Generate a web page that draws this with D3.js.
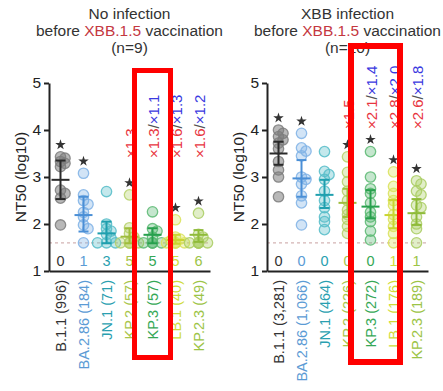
<!DOCTYPE html>
<html><head><meta charset="utf-8">
<script src="https://cdn.jsdelivr.net/npm/d3@7"></script>
<style>
body{margin:0;background:#fff}
svg{display:block}
text{font-family:"Liberation Sans",Arial,sans-serif}
</style>
</head><body>
<svg id="c" width="443" height="391"></svg>
<script>
// ---------- data ----------
const categories = ["B.1.1","BA.2.86","JN.1","KP.2","KP.3","LB.1","KP.2.3"];
const pointColors = ["#7d7d7d","#7fb2e5","#55bcc8","#b5d068","#5ab872","#d9e25a","#a9cd62"];
const lineColors  = ["#2a2a2a","#4a8fd6","#1f9fae","#9fbd3c","#27a04d","#c9d430","#8fbb3a"];
const labelColors = ["#333333","#5b9bd5","#2a9fb0","#a9c54c","#35a856","#cfdc3a","#9cc446"];

const yTicks = [1,2,3,4,5];
const detectionLimit = 1.6;

// Panel 1: No infection before XBB.1.5 vaccination (n=9)
const noInfTickLabels = ["B.1.1 (996)","BA.2.86 (184)","JN.1 (71)","KP.2 (57)","KP.3 (57)","LB.1 (40)","KP.2.3 (49)"];
const noInfValues = [
  [3.43,3.40,3.33,3.29,3.22,2.72,2.65,2.55,1.98],
  [3.08,2.62,2.50,2.42,2.25,2.15,1.98,1.90,1.60],
  [2.69,2.00,1.90,1.85,1.78,1.70,1.60,1.60,1.60],
  [2.62,1.92,1.80,1.72,1.60,1.60,1.60,1.60,1.60],
  [2.26,1.90,1.85,1.72,1.60,1.60,1.60,1.60,1.60],
  [2.09,1.72,1.68,1.65,1.60,1.60,1.60,1.60,1.60],
  [2.23,1.78,1.72,1.60,1.60,1.60,1.60,1.60,1.60]
];
const noInfMean   = [2.94,2.19,1.80,1.73,1.77,1.66,1.77];
const noInfCiHigh = [3.35,2.58,2.05,1.91,1.91,1.77,1.87];
const noInfCiLow  = [2.53,1.84,1.59,1.59,1.59,1.58,1.62];
const noInfBelow  = [0,1,3,5,5,5,6];
const noInfStar   = [true,true,false,true,false,true,true];
const noInfFoldRed  = [null,null,null,"×1.3","×1.3","×1.6","×1.6"];
const noInfFoldBlue = [null,null,null,null,"×1.1","×1.3","×1.2"];

// Panel 2: XBB infection before XBB.1.5 vaccination (n=10)
const xbbTickLabels = ["B.1.1 (3,281)","BA.2.86 (1,066)","JN.1 (464)","KP.2 (226)","KP.3 (272)","LB.1 (176)","KP.2.3 (189)"];
const xbbValues = [
  [4.00,3.93,3.86,3.79,3.72,3.60,3.33,3.15,3.00,2.58],
  [3.93,3.62,3.55,3.45,3.00,2.95,2.85,2.60,2.45,1.98],
  [3.54,3.12,3.05,2.95,2.70,2.50,2.35,2.15,2.05,1.88],
  [3.43,3.10,2.90,2.70,2.50,2.30,2.20,2.10,1.95,1.80],
  [3.54,3.00,2.75,2.65,2.45,2.25,2.15,2.05,1.85,1.66],
  [3.11,2.80,2.65,2.50,2.40,2.20,2.10,1.95,1.80,1.60],
  [2.92,2.85,2.70,2.62,2.40,2.35,2.15,2.00,1.90,1.60]
];
const xbbMean   = [3.50,2.97,2.62,2.45,2.37,2.19,2.23];
const xbbCiHigh = [3.75,3.36,2.94,2.75,2.72,2.51,2.53];
const xbbCiLow  = [3.26,2.58,2.34,2.15,2.12,1.91,1.98];
const xbbBelow  = [0,0,0,0,0,1,1];
const xbbStar   = [true,true,false,true,true,true,true];
const xbbFoldRed  = [null,null,null,"×1.5","×2.1","×2.8","×2.6"];
const xbbFoldBlue = [null,null,null,null,"×1.4","×2.0","×1.8"];

// ---------- drawing ----------
const svg = d3.select("#c");
svg.append("rect").attr("width",443).attr("height",391).attr("fill","#fff");

const y = d3.scaleLinear().domain([1,5]).range([271,83]);

function swarm(vals, r){
  const placed = [];
  const offs = [0,4.5,-4.5,9,-9,13.5,-13.5];
  vals.map((v,i)=>({v,i})).sort((a,b)=>b.v-a.v).forEach(p=>{
    p.py = y(p.v);
    let dx = 0;
    for(const o of offs){
      if(placed.every(q=>Math.hypot(q.dx-o,q.py-p.py)>=4.6)){dx=o;break;}
    }
    p.dx = dx; placed.push(p);
  });
  return placed;
}

function panel(cfg){
  const g = svg.append("g");
  const x = d3.scaleBand().domain(categories).range(cfg.range).padding(0);
  const cx = c => x(c)+x.bandwidth()/2;
  const mid = (cfg.range[0]+cfg.range[1])/2;

  // title
  const t = g.append("text").attr("text-anchor","middle").attr("font-size",15.5).attr("fill","#333");
  t.append("tspan").attr("x",mid).attr("y",18.5).text(cfg.title);
  const l2 = t.append("tspan").attr("x",mid).attr("y",35.5);
  l2.append("tspan").text("before ");
  l2.append("tspan").attr("fill","#c4373f").text("XBB.1.5");
  l2.append("tspan").text(" vaccination");
  t.append("tspan").attr("x",mid).attr("y",53).text(cfg.n);

  // detection limit
  g.append("line").attr("x1",cfg.range[0]).attr("x2",cfg.range[1]-2)
    .attr("y1",y(detectionLimit)).attr("y2",y(detectionLimit))
    .attr("stroke","#d4b4b4").attr("stroke-width",1.2).attr("stroke-dasharray","3,3");

  // points
  categories.forEach((c,i)=>{
    const pts = swarm(cfg.values[i]);
    g.append("g").selectAll("circle").data(pts).join("circle")
      .attr("cx",d=>cx(c)+d.dx).attr("cy",d=>d.py).attr("r",5.2)
      .attr("fill",pointColors[i]).attr("fill-opacity",i===0?0.55:0.35)
      .attr("stroke",pointColors[i]).attr("stroke-opacity",0.85).attr("stroke-width",1.3);
    // mean & CI
    const lg = g.append("g").attr("stroke",lineColors[i]).attr("stroke-width",2);
    lg.append("line").attr("x1",cx(c)-9).attr("x2",cx(c)+9).attr("y1",y(cfg.mean[i])).attr("y2",y(cfg.mean[i]));
    lg.append("line").attr("x1",cx(c)).attr("x2",cx(c)).attr("y1",y(cfg.hi[i])).attr("y2",y(cfg.lo[i]));
    [cfg.hi[i],cfg.lo[i]].forEach(v=>lg.append("line").attr("x1",cx(c)-5).attr("x2",cx(c)+5).attr("y1",y(v)).attr("y2",y(v)));
    // star
    if(cfg.star[i]){
      const top = y(d3.max(cfg.values[i]));
      g.append("path").attr("d",d3.symbol(d3.symbolStar,34)())
        .attr("transform",`translate(${cx(c)},${top-12})`).attr("fill","#333");
    }
    // below-limit count
    g.append("text").attr("x",cx(c)).attr("y",266).attr("text-anchor","middle")
      .attr("font-size",14.5).attr("fill",labelColors[i]).text(cfg.below[i]);
    // fold changes
    if(cfg.foldRed[i]){
      const ft = g.append("text").attr("transform",`translate(${cx(c)+1},${cfg.foldY}) rotate(-90)`)
        .attr("dy","0.36em").attr("font-size",15);
      ft.append("tspan").attr("fill","#e8353f").text(cfg.foldRed[i]);
      if(cfg.foldBlue[i]){
        ft.append("tspan").attr("fill","#555").text("/");
        ft.append("tspan").attr("fill","#3a3ae0").text(cfg.foldBlue[i]);
      }
    }
  });

  // y axis
  const ya = g.append("g").attr("transform",`translate(${cfg.range[0]},0)`)
    .call(d3.axisLeft(y).tickValues(yTicks).tickFormat(d3.format("d")).tickSize(5).tickSizeOuter(0).tickPadding(3));
  ya.selectAll("path,line").attr("stroke","#222").attr("stroke-width",2);
  ya.selectAll("text").attr("font-size",15.5).attr("fill","#222").style("font-family",'"Liberation Sans",Arial,sans-serif');

  // x axis
  const xa = g.append("g").attr("transform",`translate(0,271)`)
    .call(d3.axisBottom(x).tickSize(0).tickSizeOuter(0).tickFormat((d,i)=>cfg.labels[i]));
  xa.select("path").attr("stroke","#222").attr("stroke-width",2);
  xa.selectAll("text").attr("transform","rotate(-90)").attr("x",-9).attr("y",0).attr("dy","0.36em")
    .attr("text-anchor","end").attr("font-size",14.5)
    .attr("fill",(d,i)=>labelColors[i]).style("font-family",'"Liberation Sans",Arial,sans-serif');

  // y label
  g.append("text").attr("transform",`translate(${cfg.range[0]-23},${(y(1)+y(5))/2}) rotate(-90)`)
    .attr("text-anchor","middle").attr("font-size",15.5).attr("fill","#222").text("NT50 (log10)");

  return {x,cx};
}

const p1 = panel({range:[49,210], title:"No infection", n:"(n=9)", values:noInfValues,
  mean:noInfMean, hi:noInfCiHigh, lo:noInfCiLow, below:noInfBelow, star:noInfStar,
  foldRed:noInfFoldRed, foldBlue:noInfFoldBlue, labels:noInfTickLabels, foldY:158});
const p2 = panel({range:[267,428], title:"XBB infection", n:"(n=10)", values:xbbValues,
  mean:xbbMean, hi:xbbCiHigh, lo:xbbCiLow, below:xbbBelow, star:xbbStar,
  foldRed:xbbFoldRed, foldBlue:xbbFoldBlue, labels:xbbTickLabels, foldY:129});

// highlight boxes
svg.append("rect").attr("x",p1.cx("KP.3")-18).attr("y",70.5).attr("width",36).attr("height",287)
  .attr("fill","none").attr("stroke","#ff0000").attr("stroke-width",5);
svg.append("rect").attr("x",p2.cx("KP.3")-19.5).attr("y",46).attr("width",p2.cx("LB.1")-p2.cx("KP.3")+26).attr("height",316)
  .attr("fill","none").attr("stroke","#ff0000").attr("stroke-width",6);
</script>
</body></html>
